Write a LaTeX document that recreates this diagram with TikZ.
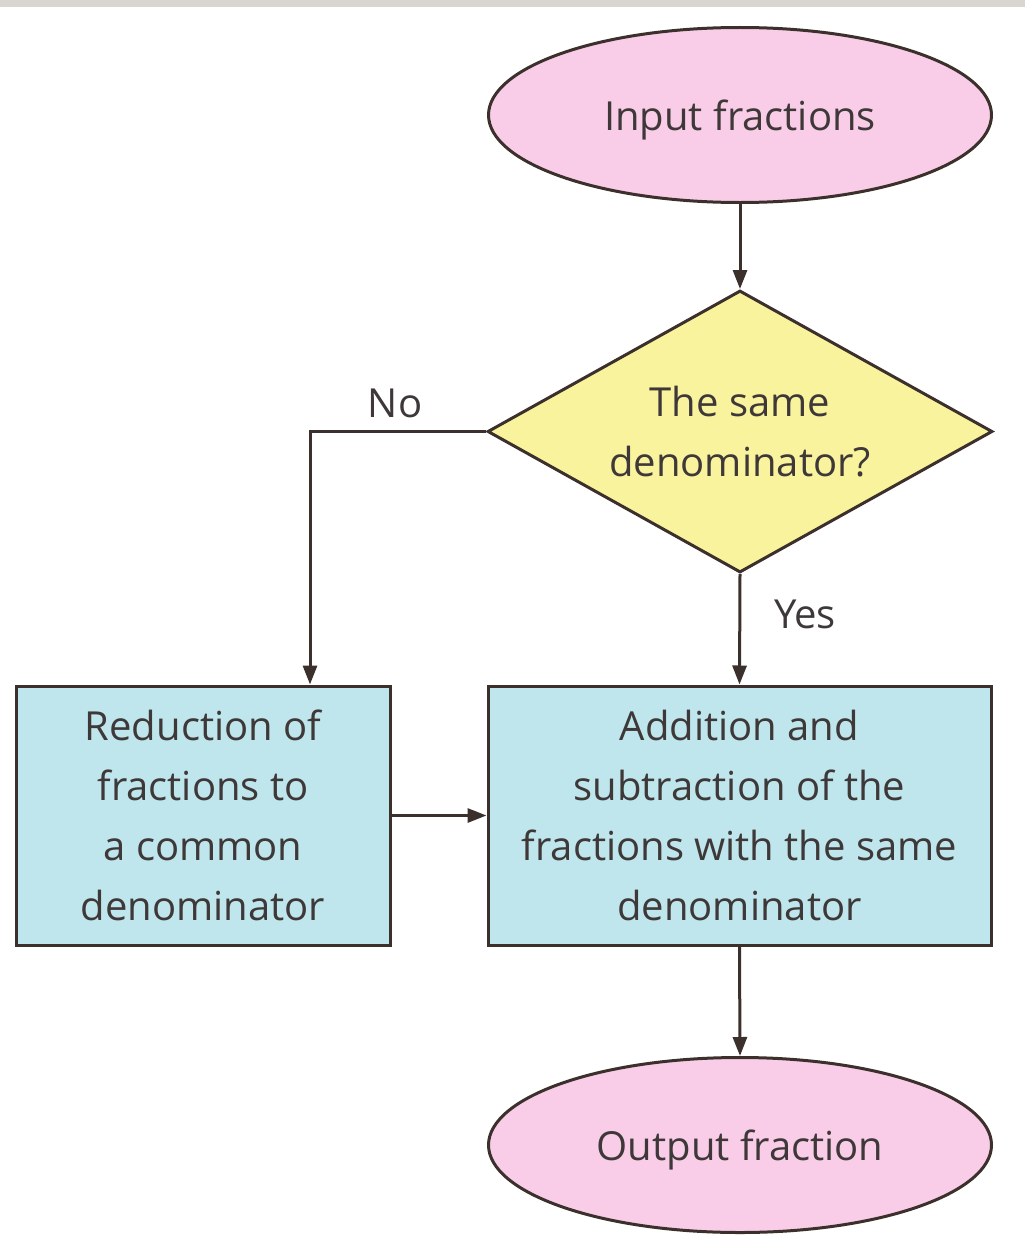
\documentclass[tikz,border=0pt]{standalone}
\usepackage{fontspec}
\setmainfont{Open Sans}
\usetikzlibrary{shapes.geometric,arrows.meta}
\definecolor{linec}{HTML}{3B302B}
\definecolor{textc}{HTML}{3E3838}
\definecolor{pinkf}{HTML}{F9CDE8}
\definecolor{yellowf}{HTML}{FAF39E}
\definecolor{bluef}{HTML}{BEE6EC}
\definecolor{barc}{HTML}{D9D6D2}
\tikzset{
  lbl/.style={font=\fontsize{40}{60}\selectfont, text=textc, align=center, inner sep=0pt},
  shapetext/.style={lbl, text depth=0pt},
  termbox/.style={shapetext, ellipse, draw=linec, line width=3pt, fill=pinkf, minimum width=503pt, minimum height=175pt},
  decbox/.style={shapetext, diamond, aspect=1.79, draw=linec, line width=3pt, fill=yellowf, minimum width=505pt, minimum height=282pt},
  procbox/.style={shapetext, rectangle, draw=linec, line width=3pt, fill=bluef, minimum height=259pt},
  conn/.style={draw=linec, line width=3pt, -{Triangle[length=19pt,width=14pt]}},
}
\begin{document}
\begin{tikzpicture}[x=1pt,y=-1pt]
\useasboundingbox (0,0) rectangle (1025,1239);
\fill[white] (0,0) rectangle (1025,1239);
\fill[barc] (0,0) rectangle (1025,7);
\node[termbox] (in) at (740,115) {Input fractions};
\node[decbox] (dec) at (740,431.5) {The same\\denominator?};
\node[procbox, minimum width=374pt] (red) at (203,815.5) {Reduction of\\fractions to\\a common\\denominator};
\node[procbox, minimum width=503pt] (add) at (739.5,815.5) {Addition and\\subtraction of the\\fractions with the same\\denominator};
\node[termbox] (out) at (740,1145) {Output fraction};
\node[lbl] (no) at (395,403) {No};
\node[lbl] (yes) at (805,614) {Yes};
\draw[conn] (in.south) -- (dec.north);
\draw[conn] (dec.west) -| ([xshift=107pt]red.north);
\draw[conn] (dec.south) -- (add.north);
\draw[conn] (red.east) -- (add.west);
\draw[conn] (add.south) -- (out.north);
\end{tikzpicture}
\end{document}
